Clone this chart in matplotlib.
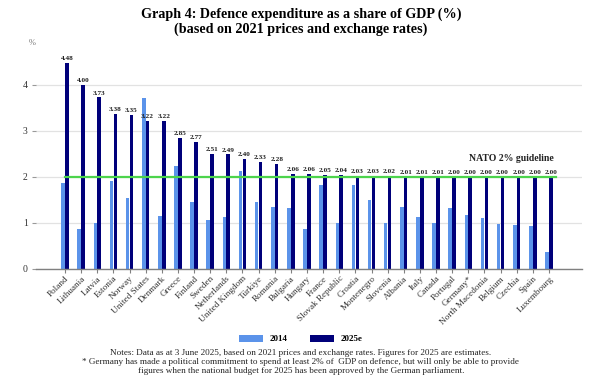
import matplotlib.pyplot as plt
import numpy as np

plt.rcParams['font.family'] = ['Liberation Serif', 'DejaVu Serif']

# データ
countries = ['Poland', 'Lithuania', 'Latvia', 'Estonia', 'Norway', 'United States',
             'Denmark', 'Greece', 'Finland', 'Sweden', 'Netherlands', 'United Kingdom',
             'Türkiye', 'Romania', 'Bulgaria', 'Hungary', 'France', 'Slovak Republic',
             'Croatia', 'Montenegro', 'Slovenia', 'Albania', 'Italy', 'Canada',
             'Portugal', 'Germany*', 'North Macedonia', 'Belgium', 'Czechia', 'Spain',
             'Luxembourg']
values_2014 = [1.86, 0.88, 0.99, 1.91, 1.55, 3.71, 1.15, 2.25, 1.46, 1.07, 1.13, 2.14,
               1.46, 1.35, 1.33, 0.87, 1.83, 0.99, 1.82, 1.51, 0.99, 1.34, 1.13, 1.01,
               1.32, 1.17, 1.10, 0.98, 0.95, 0.93, 0.37]
values_2025 = [4.48, 4.00, 3.73, 3.38, 3.35, 3.22, 3.22, 2.85, 2.77, 2.51, 2.49, 2.40,
               2.33, 2.28, 2.06, 2.06, 2.05, 2.04, 2.03, 2.03, 2.02, 2.01, 2.01, 2.01,
               2.00, 2.00, 2.00, 2.00, 2.00, 2.00, 2.00]
nato_guideline = 2.0

x = np.arange(len(countries))
w = 0.22

fig = plt.figure(figsize=(6.02, 3.81), dpi=100)
ax = fig.add_axes([36 / 602, 1 - 269 / 381, (582 - 36) / 602, 230 / 381])

ax.bar(x - 0.12, values_2014, w, color='#5B93EA', label='2014', zorder=2)
ax.bar(x + 0.12, values_2025, w, color='#00007A', label='2025e', zorder=2)

for xi, v in zip(x, values_2025):
    ax.text(xi + 0.12, v + 0.04, f'{v:.2f}', ha='center', va='bottom',
            fontsize=5.2, fontweight='bold', color='#222222')

ax.plot([0, 30.45], [nato_guideline, nato_guideline], color='#4CD44C', lw=1.6, zorder=3)
ax.text(30.3, 2.3, 'NATO 2% guideline', ha='right', va='bottom',
        fontsize=7, fontweight='bold', color='#222222')

ax.set_xlim(-1.8, 32.05)
ax.set_ylim(0, 5)
ax.set_yticks([0, 1, 2, 3, 4])
ax.yaxis.grid(True, color='#E2E2E2', lw=0.9, zorder=0)
ax.set_axisbelow(True)
for s in ['top', 'right', 'left']:
    ax.spines[s].set_visible(False)
ax.spines['bottom'].set_color('#808080')
ax.spines['bottom'].set_linewidth(1.0)
ax.tick_params(axis='y', length=3, color='#999999', labelsize=7, labelcolor='#333333', pad=3)
ax.tick_params(axis='x', length=3, color='#808080', pad=1)
ax.set_xticks(x)
ax.set_xticklabels(countries, rotation=45, ha='right', rotation_mode='anchor',
                   fontsize=6.6, color='#333333')
fig.text(32 / 602, 1 - 43 / 381, '%', fontsize=6, color='#777777', ha='center', va='center')

fig.text(0.5, 1 - 14 / 381, 'Graph 4: Defence expenditure as a share of GDP (%)',
         ha='center', va='center', fontsize=10.2, fontweight='bold')
fig.text(0.5, 1 - 29 / 381, '(based on 2021 prices and exchange rates)',
         ha='center', va='center', fontsize=10.2, fontweight='bold')

fig.legend(loc='center', bbox_to_anchor=(0.5, 1 - 339 / 381), ncol=2, frameon=False,
           handlelength=2.6, handleheight=0.8, columnspacing=2.5,
           prop={'weight': 'bold', 'size': 6.5})

notes = ('Notes: Data as at 3 June 2025, based on 2021 prices and exchange rates. Figures for 2025 are estimates.\n'
         '* Germany has made a political commitment to spend at least 2% of  GDP on defence, but will only be able to provide\n'
         'figures when the national budget for 2025 has been approved by the German parliament.')
fig.text(0.5, 1 - 362 / 381, notes, ha='center', va='center', fontsize=6.6,
         color='#222222', linespacing=1.1)

fig.savefig('out.png', dpi=100)
